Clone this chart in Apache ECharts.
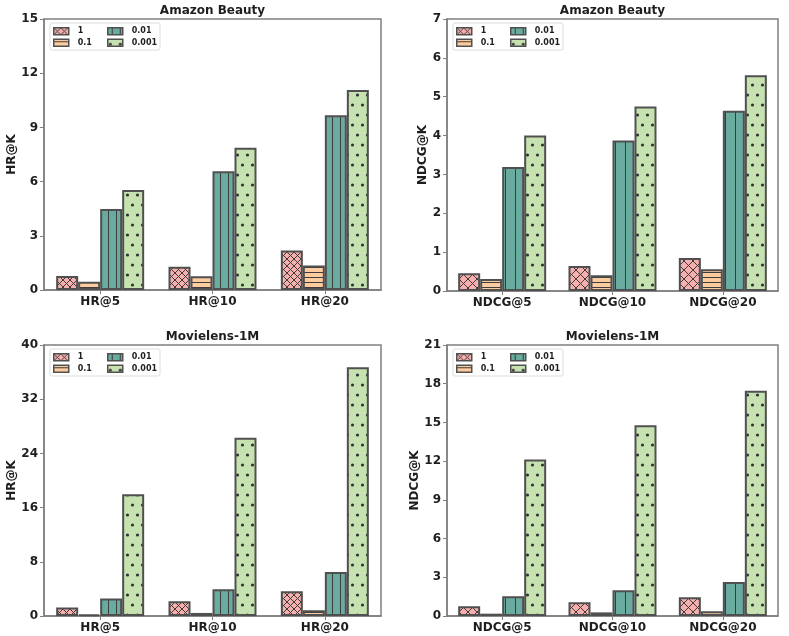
<!DOCTYPE html>
<html><head><meta charset="utf-8">
<script src="https://cdn.jsdelivr.net/npm/echarts@6/dist/echarts.min.js"></script>
<style>html,body{margin:0;padding:0;background:#fff}#c{width:789px;height:636px}</style>
</head><body><div id="c"></div>
<script>
// ---------- data ----------
const seriesNames = ['1', '0.1', '0.01', '0.001'];
const hrCategories = ['HR@5', 'HR@10', 'HR@20'];
const ndcgCategories = ['NDCG@5', 'NDCG@10', 'NDCG@20'];

const beautyHR_1 = [0.78, 1.29, 2.18];
const beautyHR_01 = [0.46, 0.76, 1.35];
const beautyHR_001 = [4.49, 6.57, 9.67];
const beautyHR_0001 = [5.53, 7.88, 11.07];

const beautyNDCG_1 = [0.46, 0.645, 0.85];
const beautyNDCG_01 = [0.31, 0.405, 0.56];
const beautyNDCG_001 = [3.19, 3.87, 4.64];
const beautyNDCG_0001 = [4.0, 4.75, 5.55];

const mlHR_1 = [1.24, 2.17, 3.65];
const mlHR_01 = [0.25, 0.45, 0.85];
const mlHR_001 = [2.57, 3.94, 6.5];
const mlHR_0001 = [17.98, 26.3, 36.7];

const mlNDCG_1 = [0.75, 1.06, 1.45];
const mlNDCG_01 = [0.18, 0.28, 0.37];
const mlNDCG_001 = [1.53, 1.99, 2.64];
const mlNDCG_0001 = [12.13, 14.79, 17.45];

const yTicksBeautyHR = {max: 15, interval: 3};
const yTicksBeautyNDCG = {max: 7, interval: 1};
const yTicksMlHR = {max: 40, interval: 8};
const yTicksMlNDCG = {max: 21, interval: 3};

// ---------- styles ----------
const FONT = 'DejaVu Sans';
const TXT = '#1e1e1e';
const SPINE = '#808080';
const EDGE = '#505050';
const HATCH = '#3c3c3c';
const fills = ['#f6afac', '#fdcb9e', '#69ab9f', '#c6e2b0'];

function mkCanvas(w, h, bg) {
  const c = document.createElement('canvas');
  c.width = w; c.height = h;
  const g = c.getContext('2d');
  g.fillStyle = bg; g.fillRect(0, 0, w, h);
  return [c, g];
}
function crossPattern(bg, s) {
  const [c, g] = mkCanvas(s, s, bg);
  g.strokeStyle = HATCH; g.lineWidth = 1;
  g.beginPath();
  g.moveTo(-1, -1); g.lineTo(s + 1, s + 1);
  g.moveTo(s + 1, -1); g.lineTo(-1, s + 1);
  g.stroke();
  return c;
}
function hLinePattern(bg) {
  const [c, g] = mkCanvas(5, 5, bg);
  g.fillStyle = HATCH; g.fillRect(0, 2, 5, 1);
  return c;
}
function vLinePattern(bg, s) {
  const [c, g] = mkCanvas(s, s, bg);
  g.fillStyle = HATCH; g.fillRect(Math.floor(s / 2), 0, 1, s);
  return c;
}
function dotPattern(bg) {
  const [c, g] = mkCanvas(10, 20, bg);
  g.fillStyle = '#333333';
  g.beginPath(); g.arc(2.5, 5, 1.6, 0, Math.PI * 2); g.fill();
  g.beginPath(); g.arc(7.5, 15, 1.6, 0, Math.PI * 2); g.fill();
  return c;
}
function makePatterns(crossSize, vSize) {
  return [
    {image: crossPattern(fills[0], crossSize), repeat: 'repeat'},
    {image: hLinePattern(fills[1]), repeat: 'repeat'},
    {image: vLinePattern(fills[2], vSize), repeat: 'repeat'},
    {image: dotPattern(fills[3]), repeat: 'repeat'}
  ];
}
const patternsHR = makePatterns(7, 8);
const patternsNDCG = makePatterns(9, 10);

const panels = [
  {title: 'Amazon Beauty', yName: 'HR@K', cats: hrCategories, ticks: yTicksBeautyHR, nameGap: 25, pat: patternsHR,
   data: [beautyHR_1, beautyHR_01, beautyHR_001, beautyHR_0001],
   grid: {left: 44, right: 408, top: 19, bottom: 346}},
  {title: 'Amazon Beauty', yName: 'NDCG@K', cats: ndcgCategories, ticks: yTicksBeautyNDCG, nameGap: 17, pat: patternsNDCG,
   data: [beautyNDCG_1, beautyNDCG_01, beautyNDCG_001, beautyNDCG_0001],
   grid: {left: 447, right: 11, top: 19, bottom: 345}},
  {title: 'Movielens-1M', yName: 'HR@K', cats: hrCategories, ticks: yTicksMlHR, nameGap: 25, pat: patternsHR,
   data: [mlHR_1, mlHR_01, mlHR_001, mlHR_0001],
   grid: {left: 44, right: 408, top: 345, bottom: 20}},
  {title: 'Movielens-1M', yName: 'NDCG@K', cats: ndcgCategories, ticks: yTicksMlNDCG, nameGap: 26, pat: patternsNDCG,
   data: [mlNDCG_1, mlNDCG_01, mlNDCG_001, mlNDCG_0001],
   grid: {left: 447, right: 11, top: 345, bottom: 20}}
];

const W = 789, H = 636;
const option = {
  backgroundColor: '#fff',
  animation: false,
  title: [], grid: [], xAxis: [], yAxis: [], series: [], legend: [], graphic: []
};

panels.forEach((p, i) => {
  const gx0 = p.grid.left, gx1 = W - p.grid.right, gy0 = p.grid.top;
  option.grid.push(Object.assign({show: true, borderColor: SPINE, borderWidth: 1.5, backgroundColor: 'transparent'}, p.grid));
  option.title.push({
    text: p.title, left: (gx0 + gx1) / 2, top: gy0 - 14, textAlign: 'center', padding: 0,
    textStyle: {fontFamily: FONT, fontWeight: 'bold', fontSize: 12, color: TXT}
  });
  option.xAxis.push({
    type: 'category', gridIndex: i, data: p.cats,
    axisLine: {show: true, lineStyle: {color: SPINE, width: 1.5}},
    axisTick: {show: true, alignWithLabel: true, length: 4, lineStyle: {color: SPINE, width: 1}},
    axisLabel: {margin: 6, fontFamily: FONT, fontWeight: 'bold', fontSize: 12, color: TXT},
    splitLine: {show: false}
  });
  option.yAxis.push({
    type: 'value', gridIndex: i, min: 0, max: p.ticks.max, interval: p.ticks.interval,
    name: p.yName, nameLocation: 'middle', nameGap: p.nameGap,
    nameTextStyle: {fontFamily: FONT, fontWeight: 'bold', fontSize: 12, color: TXT},
    axisLine: {show: true, lineStyle: {color: SPINE, width: 1.5}},
    axisTick: {show: true, length: 4, lineStyle: {color: SPINE, width: 1}},
    axisLabel: {margin: 6, fontFamily: FONT, fontWeight: 'bold', fontSize: 12, color: TXT},
    splitLine: {show: false}
  });
  seriesNames.forEach((nm, k) => {
    option.series.push({
      type: 'bar', name: nm, xAxisIndex: i, yAxisIndex: i, data: p.data[k],
      barWidth: 22, barGap: '0%',
      itemStyle: {color: p.pat[k], borderColor: EDGE, borderWidth: 2},
      emphasis: {disabled: true}
    });
  });
  const legCommon = {
    orient: 'vertical', itemWidth: 15, itemHeight: 7, itemGap: 3, padding: 0,
    selectedMode: false, icon: 'rect',
    itemStyle: {borderColor: EDGE, borderWidth: 1.5},
    textStyle: {fontFamily: FONT, fontWeight: 'bold', fontSize: 8, color: TXT, padding: [0, 0, 0, 4]}
  };
  option.legend.push(Object.assign({}, legCommon, {data: ['1', '0.1'], left: gx0 + 9, top: gy0 + 8}));
  option.legend.push(Object.assign({}, legCommon, {data: ['0.01', '0.001'], left: gx0 + 63, top: gy0 + 8}));
  option.graphic.push({
    type: 'rect', shape: {x: gx0 + 6, y: gy0 + 4, width: 110, height: 27, r: 2},
    style: {fill: 'rgba(255,255,255,0.8)', stroke: '#dddddd', lineWidth: 1}, z: 0, silent: true
  });
});

const chart = echarts.init(document.getElementById('c'), null, {renderer: 'canvas'});
chart.setOption(option);
</script></body></html>
